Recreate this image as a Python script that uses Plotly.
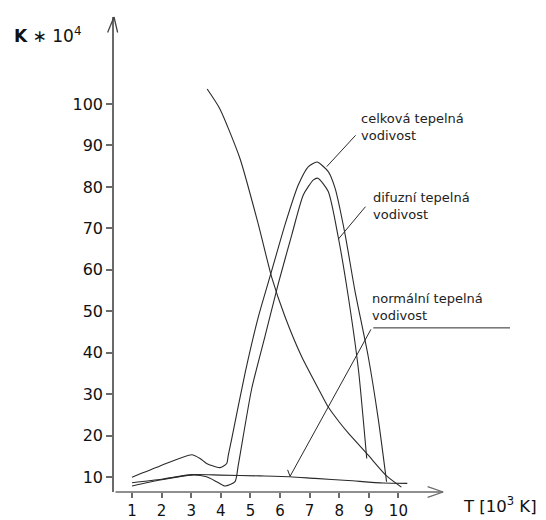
import plotly.graph_objects as go

# ---- data ----
total_T = [1, 1.95, 3.02, 3.3, 3.52, 3.97, 4.2, 4.25, 4.37, 4.82, 5.27, 5.72, 6.17, 6.62, 6.96, 7.25, 7.63, 7.86, 8.2, 8.53, 8.98, 9.32, 9.6]
total_k = [10, 12.7, 15.4, 14.5, 13.3, 12.3, 13.3, 15.2, 19.3, 35.1, 48.7, 59.8, 70.9, 80.5, 84.9, 86.0, 83.7, 79.7, 68.5, 55.0, 39.1, 24.0, 8.9]

diff_T = [1, 1.95, 3.02, 3.52, 3.86, 4.14, 4.48, 4.59, 5.04, 5.49, 5.94, 6.4, 6.79, 7.13, 7.28, 7.63, 7.97, 8.31, 8.65, 8.93]
diff_k = [7.85, 9.3, 10.5, 10.1, 8.9, 7.85, 8.9, 12.9, 31.2, 43.9, 56.6, 68.5, 78.1, 81.7, 82.1, 78.9, 67.8, 53.4, 35.9, 14.5]

norm_T = [1, 2, 3.02, 3.97, 5.32, 6.34, 7.18, 8.3, 9.48, 10.3]
norm_k = [8.65, 9.5, 10.6, 10.5, 10.3, 10.1, 9.7, 9.2, 8.6, 8.5]

fall_T = [3.54, 3.97, 4.65, 5.27, 5.72, 6.17, 6.73, 7.35, 7.63, 8.0, 8.31, 8.98, 9.6, 10.1]
fall_k = [103.6, 98.8, 86.8, 70.9, 58.2, 48.7, 39.1, 30.6, 26.9, 23.3, 20.6, 15.3, 10.3, 7.6]

x_ticks = [1, 2, 3, 4, 5, 6, 7, 8, 9, 10]
y_ticks = [10, 20, 30, 40, 50, 60, 70, 80, 90, 100]

labels = ["celková tepelná<br>vodivost", "difuzní tepelná<br>vodivost", "normální tepelná<br>vodivost"]
label_pos = [(8.67, 94.5), (9.07, 75.4), (9.04, 51.0)]

X_MIN, X_MAX = 0.392, 14.986
Y_MIN, Y_MAX = 6.42, 120.98
X_AXIS_END = 11.51

LINE = "#2a2a2a"
AXIS = "#6a6a6a"

fig = go.Figure()
for xs, ys in [(total_T, total_k), (diff_T, diff_k), (norm_T, norm_k), (fall_T, fall_k)]:
    fig.add_trace(go.Scatter(x=xs, y=ys, mode="lines",
                             line=dict(color=LINE, width=1.1, shape="spline", smoothing=0.6),
                             showlegend=False, hoverinfo="skip"))

ann = []
# x axis line + chevron
ann.append(dict(x=X_AXIS_END, y=Y_MIN, ax=X_MIN, ay=Y_MIN, xref="x", yref="y", axref="x", ayref="y",
                text="", showarrow=True, arrowhead=0, arrowwidth=1.6, arrowcolor=AXIS))
for dy in (-6, 6):
    ann.append(dict(x=X_AXIS_END, y=Y_MIN, ax=-17, ay=dy, xref="x", yref="y",
                    text="", showarrow=True, arrowhead=0, arrowwidth=1.3, arrowcolor=AXIS))
# y axis chevron
for dx in (-7, 4):
    ann.append(dict(x=X_MIN, y=Y_MAX, ax=dx, ay=17, xref="x", yref="y",
                    text="", showarrow=True, arrowhead=0, arrowwidth=1.3, arrowcolor="#444"))

# leader lines
leaders = [((7.58, 84.9), (8.6, 92.8)), ((7.97, 67.4), (8.93, 75.6)), ((6.34, 10.2), (9.1, 46.0))]
for (hx, hy), (tx, ty) in leaders:
    ann.append(dict(x=hx, y=hy, ax=tx, ay=ty, xref="x", yref="y", axref="x", ayref="y",
                    text="", showarrow=True, arrowhead=0, arrowwidth=1, arrowcolor=LINE))
ann.append(dict(x=13.77, y=46.0, ax=9.1, ay=46.0, xref="x", yref="y", axref="x", ayref="y",
                text="", showarrow=True, arrowhead=0, arrowwidth=1, arrowcolor=LINE))
ann.append(dict(x=6.34, y=10.2, ax=-3, ay=-8, xref="x", yref="y",
                text="", showarrow=True, arrowhead=0, arrowwidth=1, arrowcolor=LINE))

for txt, (lx, ly) in zip(labels, label_pos):
    ann.append(dict(x=lx, y=ly, xref="x", yref="y", text=txt, showarrow=False,
                    xanchor="left", yanchor="middle", align="left",
                    font=dict(family="DejaVu Sans", size=13, color="#222")))

# axis titles
ann.append(dict(x=-0.236, y=0.9625, xref="paper", yref="paper", text="<b>K</b> ∗ 10<sup>4</sup>",
                showarrow=False, xanchor="left", yanchor="middle",
                font=dict(family="DejaVu Sans", size=17, color="#111")))
ann.append(dict(x=0.803, y=-0.027, xref="paper", yref="paper", text="T [10<sup>3</sup> K]",
                showarrow=False, xanchor="left", yanchor="middle",
                font=dict(family="DejaVu Sans", size=16.5, color="#111")))

# page body has an 8px offset, so the figure is shifted up/left by that much
fig.update_layout(
    width=538, height=512,
    margin=dict(l=106, r=0, t=9, b=23),
    paper_bgcolor="white", plot_bgcolor="white",
    annotations=ann,
    xaxis=dict(range=[X_MIN, X_MAX], tickvals=x_ticks, ticktext=[str(v) for v in x_ticks],
               ticks="outside", ticklen=5, tickwidth=1.5, tickcolor=AXIS,
               showline=False, showgrid=False, zeroline=False,
               tickfont=dict(family="DejaVu Sans", size=15, color="#111")),
    yaxis=dict(range=[Y_MIN, Y_MAX], tickvals=y_ticks, ticktext=[str(v) for v in y_ticks],
               ticks="outside", ticklen=6, tickwidth=1.5, tickcolor=AXIS,
               showline=True, linecolor=AXIS, linewidth=1.6, showgrid=False, zeroline=False,
               tickfont=dict(family="DejaVu Sans", size=16, color="#111")),
)

fig.write_html("out.html")
